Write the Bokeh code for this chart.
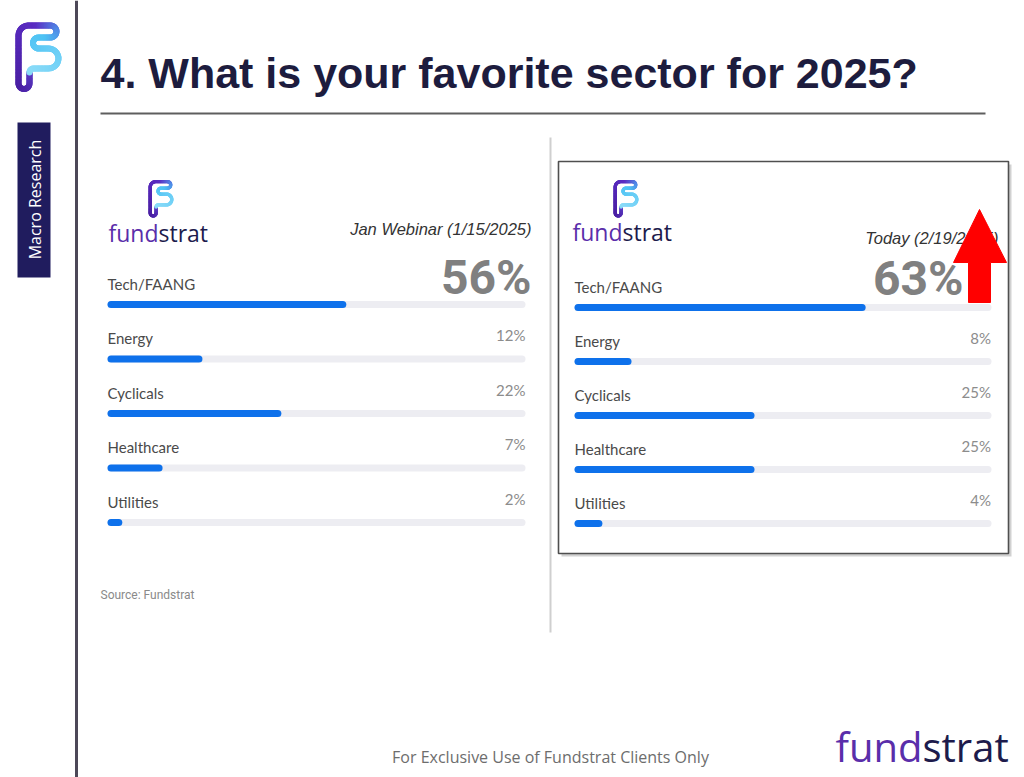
import numpy as np
from bokeh.plotting import figure
from bokeh.models import Range1d
from bokeh.core.properties import value
from bokeh.embed import file_html
from bokeh.resources import INLINE

# ---------------- data ----------------
sectors = ["Tech/FAANG", "Energy", "Cyclicals", "Healthcare", "Utilities"]
jan_pct = [56, 12, 22, 7, 2]
today_pct = [63, 8, 25, 25, 4]
# bar fill as shown in the picture (percent of track)
jan_bar_fill = [56.4, 21.4, 40.6, 11.7, 1.9]
today_bar_fill = [69.3, 12.2, 42.2, 42.2, 5.1]
jan_header = "Jan Webinar (1/15/2025)"
today_header = "Today (2/19/2025)"
title = "4. What is your favorite sector for 2025?"

# ---------------- styles ----------------
W, H = 1024, 777
BLUE = "#0e71eb"
TRACK = "#ededf2"
PURPLE = "#5a2eaa"
NAVY = "#1d1b4c"

p = figure(width=W, height=H, x_range=Range1d(0, W), y_range=Range1d(H, 0),
           min_border=0, toolbar_location=None, output_backend="svg",
           x_axis_location=None, y_axis_location=None)
p.grid.visible = False
p.outline_line_color = None
p.background_fill_color = "white"
p.border_fill_color = "white"

# panel geometry (pixels): track start/end (cap centres), first row, row step
panels = {
    "jan": dict(x0=110.5, x1=521.5, row0=304.0, step=54.5),
    "today": dict(x0=577.5, x1=987.5, row0=307.0, step=54.0),
}
exr, eyr = {}, {}
for name, g in panels.items():
    k = (g["x1"] - g["x0"]) / 100.0
    s = -g["x0"] / k
    exr[name] = Range1d(s, s + W / k)
    eyr[name] = Range1d((H - g["row0"]) / g["step"], -g["row0"] / g["step"])
p.extra_x_ranges = exr
p.extra_y_ranges = eyr

# ---------------- frame decorations ----------------
p.segment(x0=76, y0=0, x1=76, y1=H, line_color="#4d4858", line_width=3)
p.segment(x0=100, y0=113, x1=985, y1=113, line_color="#5e5e5e", line_width=2)
p.segment(x0=550, y0=137, x1=550, y1=632, line_color="#cfcfcf", line_width=2)

p.text(x=[100], y=[72], text=[title], text_font=value("Liberation Sans"),
       text_font_style="bold", text_font_size="43px", text_color="#1d1c3e",
       text_baseline="middle", text_align="left")

p.quad(left=17, right=50, top=122, bottom=277, fill_color="#201c5e", line_color=None)
p.text(x=[34], y=[199], text=["Macro Research"], angle=np.pi / 2,
       text_font=value("Open Sans"), text_font_size="16px", text_color="white",
       text_align="center", text_baseline="middle")


# ---------------- logo ----------------
def arc(cx, cy, r, a0, a1, n=14):
    a = np.linspace(a0, a1, n)
    return list(zip(cx + r * np.cos(a), cy + r * np.sin(a)))


def logo_path():
    pts = [(16, 51), (16, 62)]
    pts += arc(10.5, 62, 5.5, 0, np.pi)
    pts += [(5, 14)]
    pts += arc(15, 14, 10, np.pi, 1.5 * np.pi)
    pts += [(37, 4)]
    pts += arc(37, 10, 6, -0.5 * np.pi, 0.5 * np.pi)
    pts += [(25, 16)]
    pts += arc(25, 21.5, 5.5, 1.5 * np.pi, 0.5 * np.pi)
    pts += [(35, 27)]
    pts += arc(35, 37, 10, -0.5 * np.pi, 0.5 * np.pi)
    pts += [(20, 47)]
    pts += arc(20, 51, 4, 1.5 * np.pi, np.pi)
    pts = np.array(pts, dtype=float)
    d = np.r_[0, np.cumsum(np.hypot(*np.diff(pts, axis=0).T))]
    t = np.linspace(0, d[-1], 160)
    return np.interp(t, d, pts[:, 0]), np.interp(t, d, pts[:, 1]), t / d[-1]


def hex2rgb(h):
    return np.array([int(h[i:i + 2], 16) for i in (1, 3, 5)], dtype=float)


stops_t = [0.0, 0.12, 0.45, 0.55, 0.63, 1.0]
stops_c = [hex2rgb(c) for c in ["#5b3cc6", "#4a1fa3", "#5a2cc2", "#5088e6", "#4cc2f4", "#8adbf8"]]


def grad(tv):
    rgb = [np.interp(tv, stops_t, [c[j] for c in stops_c]) for j in range(3)]
    return "#%02x%02x%02x" % tuple(int(round(v)) for v in rgb)


def draw_logo(ox, oy, s, lw):
    u, v, tt = logo_path()
    xs = [[ox + s * u[i], ox + s * u[i + 1]] for i in range(len(u) - 1)]
    ys = [[oy + s * v[i], oy + s * v[i + 1]] for i in range(len(u) - 1)]
    cols = [grad((tt[i] + tt[i + 1]) / 2) for i in range(len(u) - 1)]
    p.multi_line(xs=xs, ys=ys, line_color=cols, line_width=lw,
                 line_cap="round", line_join="round")


def wordmark(xsplit, ymid, size):
    p.text(x=[xsplit], y=[ymid], text=["fund"], text_font=value("Open Sans"),
           text_font_size=size, text_color=PURPLE, text_align="right",
           text_baseline="middle")
    p.text(x=[xsplit], y=[ymid], text=["strat"], text_font=value("Open Sans"),
           text_font_size=size, text_color=NAVY, text_align="left",
           text_baseline="middle")


draw_logo(13, 21, 1.0, 6)

# ---------------- right panel box ----------------
p.quad(left=561, right=1011, top=164, bottom=556, fill_color="#9a9a9a",
       fill_alpha=0.45, line_color=None)
p.quad(left=558, right=1008, top=161, bottom=553, fill_color="white",
       line_color="#4f4f4f", line_width=1.6)

# ---------------- panels ----------------
def panel(name, header, header_x, header_y, pct, fill, logo_x, split_x, word_y,
          big_x_off, big_y_off, pct_x_off, pct_y_off):
    rows = list(range(len(sectors)))
    draw_logo(logo_x, 179, 0.54, 3.4)
    wordmark(split_x, word_y, "23px")
    p.text(x=[header_x], y=[header_y], text=[header],
           text_font=value("Liberation Sans"), text_font_style="italic",
           text_font_size="16.5px", text_color="#333333", text_align="right",
           text_baseline="middle")
    p.segment(x0=0, x1=100, y0=rows, y1=rows, line_color=TRACK, line_width=7,
              line_cap="round", x_range_name=name, y_range_name=name)
    p.segment(x0=0, x1=fill, y0=rows, y1=rows, line_color=BLUE, line_width=7,
              line_cap="round", x_range_name=name, y_range_name=name)
    p.text(x=0, y=rows, text=sectors, x_offset=-3.5, y_offset=-21,
           text_font=value("Lato"), text_font_size="15px", text_color="#4a4a4a",
           text_align="left", text_baseline="middle",
           x_range_name=name, y_range_name=name)
    p.text(x=100, y=rows[1:], text=[f"{v}%" for v in pct[1:]],
           x_offset=pct_x_off, y_offset=pct_y_off,
           text_font=value("Lato"), text_font_size="15px", text_color="#8c8c8c",
           text_align="right", text_baseline="middle",
           x_range_name=name, y_range_name=name)
    p.text(x=[100], y=[0], text=[f"{pct[0]}%"], x_offset=big_x_off, y_offset=big_y_off,
           text_font=value("Roboto"), text_font_style="bold",
           text_font_size="48px", text_color="#808080", text_align="right",
           text_baseline="middle", x_range_name=name, y_range_name=name)


panel("jan", jan_header, 531, 228, jan_pct, jan_bar_fill, 147, 158, 232,
      9.5, -27, 3.5, -24)
panel("today", today_header, 998, 237, today_pct, today_bar_fill, 612, 622, 231,
      -24.5, -29, 3.0, -24)

# red arrow
p.patch(x=[979, 1006, 990, 990, 968, 968, 953], y=[209, 262, 262, 302, 302, 262, 262],
        fill_color="#ff0000", line_color="#ff0000", line_width=1)

# ---------------- footer ----------------
p.text(x=[100], y=[594], text=["Source: Fundstrat"], text_font=value("Roboto"),
       text_font_size="12px", text_color="#8a8a8a", text_align="left",
       text_baseline="middle")
p.text(x=[550], y=[756], text=["For Exclusive Use of Fundstrat Clients Only"],
       text_font=value("Open Sans"), text_font_size="16px", text_color="#6d6d6d",
       text_align="center", text_baseline="middle")
wordmark(922, 746, "40px")

open("out.html", "w").write(file_html(p, INLINE))
